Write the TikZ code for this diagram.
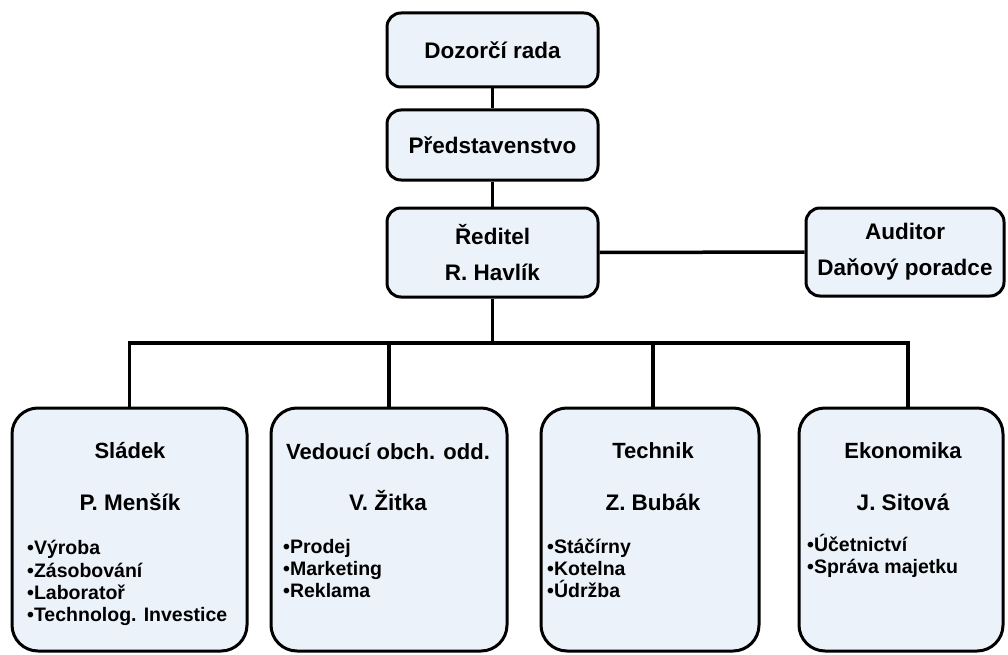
\documentclass[tikz,border=0pt]{standalone}
\usepackage{fontspec}
\setmainfont{Liberation Sans}
\definecolor{boxfill}{RGB}{236,242,249}
\tikzset{
  topbox/.style={draw=black, line width=3pt, fill=boxfill, rounded corners=14pt,
    inner sep=0pt, align=center, font=\bfseries\fontsize{22.5}{36}\selectfont},
  bigbox/.style={draw=black, line width=3pt, fill=boxfill, rounded corners=26pt, inner sep=0pt},
  ttl/.style={anchor=base, inner sep=0pt, font=\bfseries\fontsize{22}{24}\selectfont},
  nm/.style={anchor=base, inner sep=0pt, font=\bfseries\fontsize{22.5}{24}\selectfont},
  itm/.style={anchor=base west, inner sep=0pt, font=\bfseries\fontsize{19.5}{22}\selectfont},
  conn/.style={draw=black, line width=3.5pt}
}
\begin{document}
\begin{tikzpicture}[x=1pt,y=-1pt]
\useasboundingbox (0,0) rectangle (1008,655);
% top boxes
\node[topbox, minimum width=211pt, minimum height=74pt] (doz) at (492.5,50) {Dozorčí rada};
\node[topbox, minimum width=211pt, minimum height=70pt] (pred) at (492.5,145) {Představenstvo};
\node[topbox, minimum width=211pt, minimum height=89pt] (red) at (492.5,252.5) {Ředitel\\R. Havlík};
\node[topbox, minimum width=198pt, minimum height=88pt] (aud) at (905,252) {Auditor\\Daňový poradce};
% bottom boxes
\node[bigbox, minimum width=235pt, minimum height=243pt] (sl) at (129.5,529.5) {};
\node[bigbox, minimum width=236pt, minimum height=243pt] (ve) at (389,529.5) {};
\node[bigbox, minimum width=218pt, minimum height=243pt] (te) at (650,529.5) {};
\node[bigbox, minimum width=204pt, minimum height=243pt] (ek) at (901,529.5) {};
% connectors
\coordinate (bus) at (492.5,343);
\draw[conn] (doz.south) -- (pred.north);
\draw[conn] (pred.south) -- (red.north);
\draw[conn] (red.east) -- (aud.west);
\draw[conn] (red.south) -- (bus);
\draw[conn] (sl.north) |- (bus) -| ([xshift=7pt]ek.north);
\draw[conn] (ve.north) -- (ve.north |- bus);
\draw[conn] ([xshift=3pt]te.north) -- ([xshift=3pt]te.north |- bus);
% Sládek
\node[ttl] (slt) at (130,458) {Sládek};
\node[nm] (sln) at (130,510) {P. Menšík};
\node[itm] (sl1) at (27,554) {•Výroba};
\node[itm] (sl2) at (27,577) {•Zásobování};
\node[itm] (sl3) at (27,599) {•Laboratoř};
\node[itm] (sl4) at (27,621) {•Technolog. Investice};
% Vedoucí
\node[ttl] (vet) at (388,459) {Vedoucí obch. odd.};
\node[nm] (ven) at (388,510) {V. Žitka};
\node[itm] (ve1) at (283,553) {•Prodej};
\node[itm] (ve2) at (283,575) {•Marketing};
\node[itm] (ve3) at (283,597) {•Reklama};
% Technik
\node[ttl] (tet) at (653,458) {Technik};
\node[nm] (ten) at (653,510) {Z. Bubák};
\node[itm] (te1) at (547,553) {•Stáčírny};
\node[itm] (te2) at (547,575) {•Kotelna};
\node[itm] (te3) at (547,597) {•Údržba};
% Ekonomika
\node[ttl] (ekt) at (903,458) {Ekonomika};
\node[nm] (ekn) at (903,510) {J. Sitová};
\node[itm] (ek1) at (807,551) {•Účetnictví};
\node[itm] (ek2) at (807,573) {•Správa majetku};
\end{tikzpicture}
\end{document}
